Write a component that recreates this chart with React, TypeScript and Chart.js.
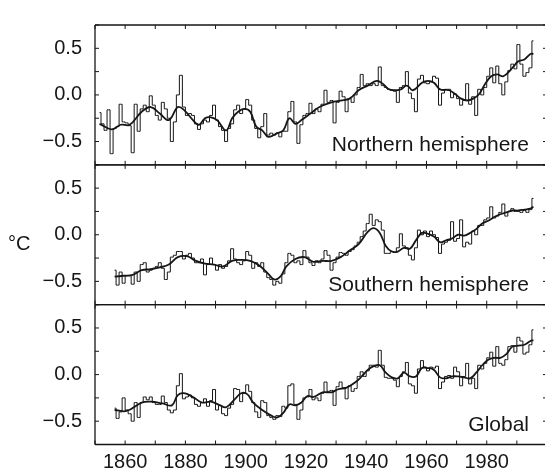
import { useEffect, useRef } from 'react';
import { Chart, registerables } from 'chart.js';

Chart.register(...registerables);

// ---- data (°C anomalies) ----
const nhStartYear = 1851;
const nhAnnual = [
  -0.19, -0.31, -0.38, -0.16, -0.63, -0.36, -0.34, -0.10, -0.29,
  -0.30, -0.33, -0.62, -0.10, -0.39, -0.15, -0.11, -0.18, -0.01, -0.11,
  -0.22, -0.27, -0.08, -0.15, -0.25, -0.50, -0.29, 0.00, 0.21, -0.13,
  -0.22, -0.20, -0.22, -0.31, -0.37, -0.31, -0.27, -0.29, -0.22, -0.11,
  -0.27, -0.34, -0.38, -0.50, -0.36, -0.31, -0.16, -0.11, -0.20, -0.15,
  -0.05, -0.11, -0.27, -0.36, -0.46, -0.34, -0.20, -0.43, -0.41, -0.43,
  -0.41, -0.45, -0.39, -0.39, -0.18, -0.07, -0.29, -0.52, -0.32, -0.22,
  -0.20, -0.09, -0.20, -0.15, -0.18, -0.10, 0.05, -0.08, -0.06, -0.30,
  -0.08, 0.04, -0.02, -0.18, -0.04, -0.08, 0.00, 0.08, 0.22, 0.10,
  0.12, 0.10, 0.12, 0.10, 0.30, 0.10, 0.08, 0.06, 0.05, 0.04,
  -0.08, 0.08, 0.10, 0.25, 0.02, -0.04, -0.18, 0.17, 0.21, 0.13,
  0.12, 0.14, 0.20, 0.18, -0.11, 0.02, 0.06, 0.06, -0.03, 0.01,
  -0.04, -0.11, -0.06, 0.12, -0.10, -0.02, -0.22, 0.06, 0.00, 0.08,
  0.20, 0.29, 0.13, 0.31, 0.12, 0.00, 0.14, 0.26, 0.33, 0.28,
  0.54, 0.33, 0.20, 0.24, 0.29, 0.58,
];
const nhSmoothYears = [
  1851, 1855, 1858, 1861, 1865, 1868, 1871, 1874, 1877, 1879, 1882, 1884, 1886, 1888,
  1890, 1893, 1895, 1897, 1899, 1901, 1903, 1905, 1907, 1910, 1912, 1914, 1916, 1918,
  1921, 1924, 1928, 1931, 1934, 1937, 1940, 1943, 1945, 1947, 1949, 1951, 1953, 1955,
  1958, 1960, 1962, 1964, 1967, 1969, 1971, 1973, 1975, 1977, 1979, 1981, 1983, 1985,
  1988, 1990, 1992, 1994, 1995,
];
const nhSmooth = [
  -0.31, -0.37, -0.32, -0.32, -0.18, -0.13, -0.20, -0.27, -0.13, -0.16, -0.27, -0.32, -0.25, -0.24,
  -0.27, -0.38, -0.25, -0.18, -0.15, -0.18, -0.34, -0.38, -0.45, -0.41, -0.38, -0.25, -0.31, -0.27,
  -0.20, -0.13, -0.08, -0.06, -0.04, 0.05, 0.10, 0.15, 0.12, 0.06, 0.05, 0.06, 0.10, 0.05,
  0.13, 0.15, 0.13, 0.06, 0.05, 0.01, -0.04, -0.06, -0.04, 0.01, 0.12, 0.20, 0.22, 0.20,
  0.29, 0.36, 0.38, 0.44, 0.44,
];

const shStartYear = 1856;
const shAnnual = [
  -0.38, -0.54, -0.40, -0.52,
  -0.44, -0.44, -0.53, -0.40, -0.50, -0.32, -0.30, -0.40, -0.38, -0.36,
  -0.34, -0.30, -0.36, -0.48, -0.40, -0.24, -0.22, -0.18, -0.18, -0.26,
  -0.22, -0.20, -0.25, -0.30, -0.30, -0.26, -0.43, -0.32, -0.25, -0.32,
  -0.38, -0.32, -0.36, -0.34, -0.28, -0.15, -0.26, -0.30, -0.32, -0.28,
  -0.18, -0.22, -0.36, -0.30, -0.34, -0.30, -0.40, -0.46, -0.48, -0.54,
  -0.50, -0.52, -0.42, -0.30, -0.20, -0.22, -0.30, -0.28, -0.32, -0.17,
  -0.24, -0.30, -0.33, -0.28, -0.30, -0.26, -0.17, -0.22, -0.38, -0.30,
  -0.24, -0.19, -0.20, -0.22, -0.18, -0.16, -0.12, -0.08, -0.02, 0.04,
  0.12, 0.22, 0.10, 0.16, 0.14, 0.05, -0.20, -0.20, -0.18, -0.19,
  -0.14, 0.01, -0.12, -0.14, -0.22, -0.27, -0.14, 0.05, 0.00, 0.04,
  -0.02, 0.04, 0.00, -0.03, -0.20, -0.10, -0.08, -0.06, 0.14, -0.07,
  -0.04, 0.16, -0.13, -0.08, -0.10, 0.04, 0.00, 0.10, 0.10, 0.16,
  0.18, 0.30, 0.18, 0.20, 0.24, 0.33, 0.20, 0.25, 0.28, 0.25,
  0.25, 0.24, 0.26, 0.24, 0.27, 0.39,
];
const shSmoothYears = [
  1856, 1859, 1862, 1865, 1868, 1871, 1874, 1877, 1880, 1883, 1886, 1889, 1892, 1895,
  1898, 1901, 1904, 1907, 1909, 1911, 1913, 1916, 1919, 1922, 1925, 1928, 1931, 1934,
  1937, 1940, 1942, 1944, 1946, 1948, 1950, 1952, 1954, 1956, 1958, 1960, 1962, 1964,
  1966, 1968, 1970, 1972, 1974, 1976, 1978, 1980, 1982, 1984, 1986, 1988, 1990, 1992,
  1994, 1995,
];
const shSmooth = [
  -0.45, -0.44, -0.43, -0.38, -0.37, -0.35, -0.32, -0.24, -0.23, -0.28, -0.31, -0.32, -0.34, -0.28,
  -0.27, -0.28, -0.33, -0.42, -0.48, -0.45, -0.34, -0.26, -0.24, -0.29, -0.28, -0.28, -0.24, -0.17,
  -0.10, 0.03, 0.07, 0.02, -0.12, -0.18, -0.18, -0.14, -0.15, -0.06, 0.02, 0.01, -0.02, -0.08,
  -0.06, -0.04, 0.00, -0.01, 0.02, 0.06, 0.12, 0.15, 0.19, 0.22, 0.24, 0.26, 0.26, 0.27,
  0.28, 0.30,
];

const glStartYear = 1856;
const glAnnual = [
  -0.36, -0.47, -0.40, -0.25,
  -0.38, -0.42, -0.50, -0.30, -0.46, -0.30, -0.24, -0.27, -0.24, -0.30,
  -0.32, -0.32, -0.23, -0.30, -0.38, -0.41, -0.38, -0.12, 0.01, -0.26,
  -0.24, -0.22, -0.25, -0.32, -0.34, -0.30, -0.26, -0.34, -0.28, -0.16,
  -0.38, -0.33, -0.42, -0.44, -0.36, -0.32, -0.15, -0.16, -0.29, -0.20,
  -0.11, -0.18, -0.30, -0.40, -0.46, -0.28, -0.30, -0.44, -0.46, -0.48,
  -0.44, -0.45, -0.34, -0.36, -0.12, -0.10, -0.32, -0.48, -0.38, -0.25,
  -0.24, -0.16, -0.27, -0.25, -0.28, -0.20, -0.08, -0.18, -0.17, -0.33,
  -0.13, -0.08, -0.14, -0.26, -0.12, -0.18, -0.15, -0.02, 0.03, -0.02,
  0.04, 0.10, 0.10, 0.08, 0.26, 0.10, -0.03, -0.04, -0.04, -0.06,
  -0.13, -0.02, 0.03, 0.13, -0.10, -0.12, -0.20, 0.06, 0.15, 0.08,
  0.04, 0.08, 0.07, 0.09, -0.15, -0.08, -0.02, -0.01, -0.04, 0.08,
  0.03, -0.12, -0.02, 0.12, -0.10, -0.04, -0.15, 0.10, 0.06, 0.12,
  0.18, 0.24, 0.09, 0.30, 0.12, 0.10, 0.16, 0.30, 0.31, 0.24,
  0.40, 0.36, 0.22, 0.24, 0.32, 0.48,
];
const glSmoothYears = [
  1856, 1860, 1865, 1868, 1872, 1875, 1877, 1879, 1882, 1885, 1888, 1891, 1893, 1896,
  1898, 1900, 1902, 1905, 1908, 1910, 1912, 1914, 1916, 1918, 1920, 1922, 1925, 1928,
  1930, 1933, 1936, 1938, 1940, 1942, 1944, 1946, 1948, 1950, 1952, 1954, 1956, 1958,
  1960, 1962, 1964, 1966, 1968, 1970, 1972, 1974, 1976, 1978, 1980, 1982, 1984, 1986,
  1988, 1990, 1992, 1994, 1995,
];
const glSmooth = [
  -0.38, -0.39, -0.30, -0.29, -0.31, -0.33, -0.22, -0.20, -0.24, -0.30, -0.29, -0.33, -0.35, -0.26,
  -0.20, -0.21, -0.30, -0.38, -0.44, -0.46, -0.41, -0.32, -0.33, -0.30, -0.23, -0.24, -0.19, -0.19,
  -0.16, -0.14, -0.08, -0.02, 0.05, 0.09, 0.10, 0.02, -0.03, -0.04, 0.02, -0.02, -0.02, 0.07,
  0.07, 0.05, -0.03, -0.04, -0.02, -0.02, -0.03, -0.04, 0.02, 0.10, 0.16, 0.18, 0.18, 0.22,
  0.30, 0.31, 0.32, 0.36, 0.37,
];

const xTickLabels = [1860, 1880, 1900, 1920, 1940, 1960, 1980];
const yTickValues = [-0.5, 0, 0.5];
const yTickLabels = ['\u22120.5', '0.0', '0.5'];
const panelNames = ['Northern hemisphere', 'Southern hemisphere', 'Global'];
const unitLabel = '°C';

// ---- styling ----
const FONT = '"Liberation Sans", Arial, Helvetica, sans-serif';
const INK = '#161616';
const panelIds = ['yNH', 'ySH', 'yGL'];

const stepPoints = (start: number, vals: number[]) =>
  vals.map((v, i) => ({ x: start + i + 0.5, y: v }));
const smoothPoints = (years: number[], vals: number[]) =>
  years.map((yr, i) => ({ x: yr + 0.5, y: vals[i] }));

const framePlugin = {
  id: 'panelFrame',
  afterDatasetsDraw(chart: any) {
    const { ctx, chartArea } = chart;
    const { left, right } = chartArea;
    const xs = chart.scales.x;
    ctx.save();
    ctx.strokeStyle = INK;
    panelIds.forEach((id, i) => {
      const s = chart.scales[id];
      ctx.lineWidth = 1.3;
      ctx.beginPath();
      ctx.moveTo(left, s.top);
      ctx.lineTo(right, s.top);
      ctx.moveTo(left, s.bottom);
      ctx.lineTo(right, s.bottom);
      ctx.moveTo(left, s.top);
      ctx.lineTo(left, s.bottom);
      ctx.moveTo(right, s.top);
      ctx.lineTo(right, s.bottom);
      ctx.stroke();
      ctx.lineWidth = 1;
      ctx.beginPath();
      s.ticks.forEach((t: any) => {
        const y = s.getPixelForValue(t.value);
        ctx.moveTo(left, y);
        ctx.lineTo(left + 4, y);
        ctx.moveTo(right - 4, y);
        ctx.lineTo(right, y);
      });
      xs.ticks.forEach((t: any) => {
        const x = xs.getPixelForValue(t.value);
        ctx.moveTo(x, s.top);
        ctx.lineTo(x, s.top + 4);
        ctx.moveTo(x, s.bottom - 4);
        ctx.lineTo(x, s.bottom);
      });
      ctx.stroke();
      ctx.font = `21px ${FONT}`;
      ctx.fillStyle = INK;
      ctx.textAlign = 'right';
      ctx.textBaseline = 'alphabetic';
      ctx.fillText(panelNames[i], right - 18, s.bottom - 14);
    });
    const mid = chart.scales.ySH;
    ctx.font = `20px ${FONT}`;
    ctx.textAlign = 'left';
    ctx.textBaseline = 'middle';
    ctx.fillText(unitLabel, 8, mid.getPixelForValue(0) + 10);
    ctx.restore();
  },
};

const yAxis = () => ({
  type: 'linear' as const,
  position: 'left' as const,
  stack: 'panels',
  stackWeight: 1,
  offset: false,
  min: -0.75,
  max: 0.75,
  grid: { display: false, drawTicks: false },
  border: { display: false },
  ticks: {
    stepSize: 0.25,
    autoSkip: false,
    padding: 13,
    color: INK,
    font: { family: FONT, size: 20 },
    callback: (v: any) => {
      const k = yTickValues.findIndex((t) => Math.abs(t - Number(v)) < 1e-6);
      return k >= 0 ? yTickLabels[k] : '';
    },
  },
  afterFit: (s: any) => {
    s.width = 95;
  },
});

export default function App() {
  const ref = useRef<HTMLCanvasElement | null>(null);

  useEffect(() => {
    if (!ref.current) return;
    const stepStyle = {
      borderColor: INK,
      borderWidth: 1,
      pointRadius: 0,
      stepped: 'middle' as const,
      fill: false,
      order: 2,
    };
    const smoothStyle = {
      borderColor: INK,
      borderWidth: 1.8,
      pointRadius: 0,
      tension: 0.4,
      fill: false,
      order: 1,
    };
    const chart = new Chart(ref.current, {
      type: 'line',
      data: {
        datasets: [
          { ...stepStyle, yAxisID: 'yNH', data: stepPoints(nhStartYear, nhAnnual) },
          { ...smoothStyle, yAxisID: 'yNH', data: smoothPoints(nhSmoothYears, nhSmooth) },
          { ...stepStyle, yAxisID: 'ySH', data: stepPoints(shStartYear, shAnnual) },
          { ...smoothStyle, yAxisID: 'ySH', data: smoothPoints(shSmoothYears, shSmooth) },
          { ...stepStyle, yAxisID: 'yGL', data: stepPoints(glStartYear, glAnnual) },
          { ...smoothStyle, yAxisID: 'yGL', data: smoothPoints(glSmoothYears, glSmooth) },
        ] as any,
      },
      options: {
        animation: false,
        responsive: false,
        events: [],
        layout: { padding: { top: 17.5, right: 9, left: 0, bottom: 0 } },
        plugins: { legend: { display: false }, tooltip: { enabled: false } },
        scales: {
          x: {
            type: 'linear',
            min: 1850,
            max: 2000,
            grid: { display: false, drawTicks: false },
            border: { display: false },
            ticks: {
              stepSize: 10,
              autoSkip: false,
              maxRotation: 0,
              padding: 6,
              color: INK,
              font: { family: FONT, size: 20 },
              callback: (v: any) => (xTickLabels.includes(Number(v)) ? String(v) : ''),
            },
            afterFit: (s: any) => {
              s.height = 26.5;
            },
          },
          yGL: yAxis(),
          ySH: yAxis(),
          yNH: yAxis(),
        } as any,
      },
      plugins: [framePlugin],
    });
    return () => chart.destroy();
  }, []);

  return (
    <div
      style={{
        position: 'fixed',
        left: 0,
        top: 0,
        width: 545,
        height: 471,
        overflow: 'hidden',
        background: '#fff',
      }}
    >
      <canvas ref={ref} width={556} height={471} style={{ width: 556, height: 471, display: 'block' }} />
    </div>
  );
}
